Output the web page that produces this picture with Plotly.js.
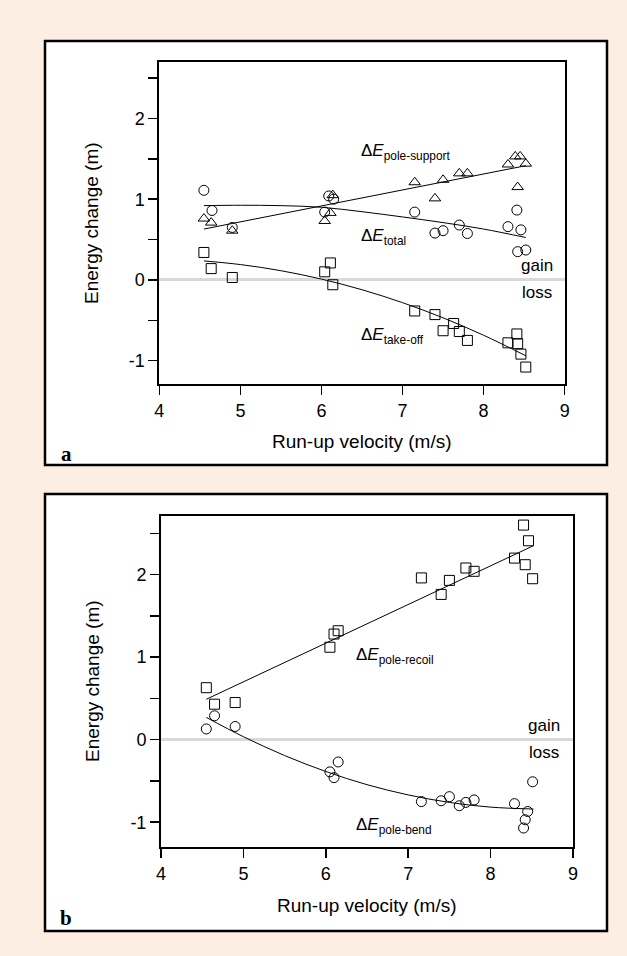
<!DOCTYPE html>
<html>
<head>
<meta charset="utf-8">
<script src="https://cdn.plot.ly/plotly-3.0.1.min.js"></script>
<style>html,body{margin:0;padding:0;background:#fdeee3;}#chart{width:627px;height:956px;}</style>
</head>
<body>
<div id="chart"></div>
<script>
// ---------- Panel a data ----------
const supportX = [4.55, 4.64, 4.90, 6.04, 6.11, 6.14, 7.15, 7.40, 7.50, 7.70, 7.80, 8.30, 8.39, 8.45, 8.42, 8.52];
const supportY = [0.76, 0.71, 0.61, 0.73, 0.83, 1.05, 1.21, 1.01, 1.24, 1.32, 1.32, 1.43, 1.53, 1.53, 1.15, 1.44];
const totalX = [4.55, 4.65, 4.90, 6.04, 6.09, 6.15, 7.15, 7.40, 7.50, 7.70, 7.80, 8.30, 8.41, 8.46, 8.42, 8.52];
const totalY = [1.11, 0.86, 0.65, 0.84, 1.04, 1.00, 0.84, 0.58, 0.61, 0.68, 0.575, 0.66, 0.865, 0.62, 0.35, 0.37];
const takeoffX = [4.55, 4.64, 4.90, 6.04, 6.11, 6.14, 7.15, 7.40, 7.50, 7.63, 7.70, 7.80, 8.30, 8.41, 8.42, 8.46, 8.52];
const takeoffY = [0.34, 0.14, 0.03, 0.10, 0.21, -0.06, -0.385, -0.43, -0.63, -0.54, -0.64, -0.75, -0.78, -0.67, -0.79, -0.92, -1.08];
// fitted curves
const supportFitX = [4.55, 8.52];
const supportFitY = [0.63, 1.415];
const totalFitX = [4.55, 5.0, 5.5, 6.0, 6.5, 7.0, 7.5, 8.0, 8.52];
const totalFitY = [0.92, 0.925, 0.92, 0.90, 0.845, 0.78, 0.71, 0.63, 0.525];
const takeoffFitX = [4.55, 5.0, 5.5, 6.0, 6.5, 7.0, 7.5, 8.0, 8.52];
const takeoffFitY = [0.235, 0.19, 0.114, 0.01, -0.122, -0.282, -0.47, -0.686, -0.94];

// ---------- Panel b data ----------
const recoilX = [4.55, 4.65, 4.90, 6.05, 6.10, 6.15, 7.16, 7.40, 7.50, 7.70, 7.80, 8.29, 8.40, 8.46, 8.42, 8.51];
const recoilY = [0.63, 0.43, 0.45, 1.12, 1.28, 1.32, 1.96, 1.76, 1.93, 2.08, 2.04, 2.20, 2.60, 2.41, 2.12, 1.95];
const bendX = [4.55, 4.65, 4.90, 6.05, 6.10, 6.15, 7.16, 7.40, 7.50, 7.62, 7.70, 7.80, 8.29, 8.45, 8.42, 8.40, 8.51];
const bendY = [0.13, 0.29, 0.16, -0.39, -0.46, -0.27, -0.75, -0.74, -0.69, -0.80, -0.76, -0.73, -0.775, -0.87, -0.97, -1.07, -0.51];
const recoilFitX = [4.55, 8.52];
const recoilFitY = [0.49, 2.35];
const bendFitX = [4.55, 5.0, 5.5, 6.0, 6.5, 7.0, 7.5, 8.0, 8.52];
const bendFitY = [0.27, 0.036, -0.192, -0.385, -0.545, -0.669, -0.76, -0.817, -0.84];

// ---------- ticks ----------
const xTickVals = [4, 5, 6, 7, 8, 9];
const xTickText = ['4', '5', '6', '7', '8', '9'];
const yTickVals = [-1, 0, 1, 2];
const yTickText = ['-1', '0', '1', '2'];
const yMinorStep = 0.5;

const W = 627, H = 956;
const px = v => v / W;
const py = v => 1 - v / H;
const FONT = 'Liberation Sans, Arial, sans-serif';

function pts(x, y, sym, size, xa, ya) {
  return {x: x, y: y, xaxis: xa, yaxis: ya, type: 'scatter', mode: 'markers', cliponaxis: false,
    marker: {symbol: sym, size: size, color: '#000', line: {color: '#000', width: 1}}, hoverinfo: 'skip'};
}
function fit(x, y, xa, ya) {
  return {x: x, y: y, xaxis: xa, yaxis: ya, type: 'scatter', mode: 'lines', line: {color: '#000', width: 1, shape: 'spline'}, hoverinfo: 'skip'};
}

const traces = [
  fit(supportFitX, supportFitY, 'x', 'y'),
  fit(totalFitX, totalFitY, 'x', 'y'),
  fit(takeoffFitX, takeoffFitY, 'x', 'y'),
  pts(supportX, supportY, 'triangle-up-open', 10, 'x', 'y'),
  pts(totalX, totalY, 'circle-open', 10, 'x', 'y'),
  pts(takeoffX, takeoffY, 'square-open', 10, 'x', 'y'),
  fit(recoilFitX, recoilFitY, 'x2', 'y2'),
  fit(bendFitX, bendFitY, 'x2', 'y2'),
  pts(recoilX, recoilY, 'square-open', 10, 'x2', 'y2'),
  pts(bendX, bendY, 'circle-open', 10, 'x2', 'y2')
];

function xax(domain, anchor) {
  return {domain: domain, anchor: anchor, range: [4, 9], tickmode: 'array', tickvals: xTickVals, ticktext: xTickText,
    ticks: 'outside', ticklen: 9, tickwidth: 1.5, tickcolor: '#000', showline: true, mirror: true,
    linewidth: 2, linecolor: '#000', showgrid: false, zeroline: false, fixedrange: true,
    tickfont: {family: FONT, size: 18, color: '#000'}};
}
function yax(domain, anchor, range) {
  return {domain: domain, anchor: anchor, range: range, tickmode: 'array', tickvals: yTickVals, ticktext: yTickText,
    ticks: 'outside', ticklen: 9, tickwidth: 1.5, tickcolor: '#000', showline: true, mirror: true,
    minor: {dtick: yMinorStep, tick0: 0, ticks: 'outside', ticklen: 9, tickwidth: 1.5, tickcolor: '#000', showgrid: false},
    linewidth: 2, linecolor: '#000', showgrid: false, zeroline: true, zerolinecolor: '#d9d9d9',
    zerolinewidth: 3, fixedrange: true, tickfont: {family: FONT, size: 18, color: '#000'}};
}

function ann(text, x, y, opts) {
  return Object.assign({text: text, x: px(x), y: py(y), xref: 'paper', yref: 'paper', showarrow: false,
    xanchor: 'left', yanchor: 'middle', font: {family: FONT, size: 17, color: '#000'}}, opts || {});
}

const annotations = [
  ann('Δ<i>E</i><sub>pole-support</sub>', 359, 152),
  ann('Δ<i>E</i><sub>total</sub>', 359, 237),
  ann('Δ<i>E</i><sub>take-off</sub>', 359, 336),
  ann('gain', 537, 266, {xanchor: 'center'}),
  ann('loss', 537, 292, {xanchor: 'center'}),
  ann('Energy change (m)', 92, 223, {xanchor: 'center', textangle: -90, font: {family: FONT, size: 19, color: '#000'}}),
  ann('Run-up velocity (m/s)', 362, 442, {xanchor: 'center', font: {family: FONT, size: 19, color: '#000'}}),
  ann('<b>a</b>', 66, 454, {xanchor: 'center', font: {family: 'Liberation Serif, Times New Roman, serif', size: 21, color: '#000'}}),

  ann('Δ<i>E</i><sub>pole-recoil</sub>', 354, 656),
  ann('Δ<i>E</i><sub>pole-bend</sub>', 354, 826),
  ann('gain', 544, 725, {xanchor: 'center'}),
  ann('loss', 544, 752, {xanchor: 'center'}),
  ann('Energy change (m)', 92, 681, {xanchor: 'center', textangle: -90, font: {family: FONT, size: 19, color: '#000'}}),
  ann('Run-up velocity (m/s)', 367, 905, {xanchor: 'center', font: {family: FONT, size: 19, color: '#000'}}),
  ann('<b>b</b>', 66, 918, {xanchor: 'center', font: {family: 'Liberation Serif, Times New Roman, serif', size: 21, color: '#000'}})
];

const shapes = [
  {type: 'rect', xref: 'paper', yref: 'paper', x0: px(45), x1: px(607), y0: py(465), y1: py(41),
    fillcolor: '#fff', line: {color: '#000', width: 2.5}, layer: 'below'},
  {type: 'rect', xref: 'paper', yref: 'paper', x0: px(45), x1: px(607), y0: py(931), y1: py(494),
    fillcolor: '#fff', line: {color: '#000', width: 2.5}, layer: 'below'}
];

const layout = {
  width: W, height: H,
  margin: {l: 0, r: 0, t: 0, b: 0},
  paper_bgcolor: '#fdeee3',
  plot_bgcolor: '#fff',
  showlegend: false,
  xaxis: xax([px(159.3), px(564.7)], 'y'),
  yaxis: yax([py(384), py(62)], 'x', [-1.29, 2.70]),
  xaxis2: xax([px(161), px(573)], 'y2'),
  yaxis2: yax([py(847), py(516)], 'x2', [-1.30, 2.71]),
  annotations: annotations,
  shapes: shapes
};

Plotly.newPlot('chart', traces, layout, {staticPlot: true, displayModeBar: false});
</script>
</body>
</html>
